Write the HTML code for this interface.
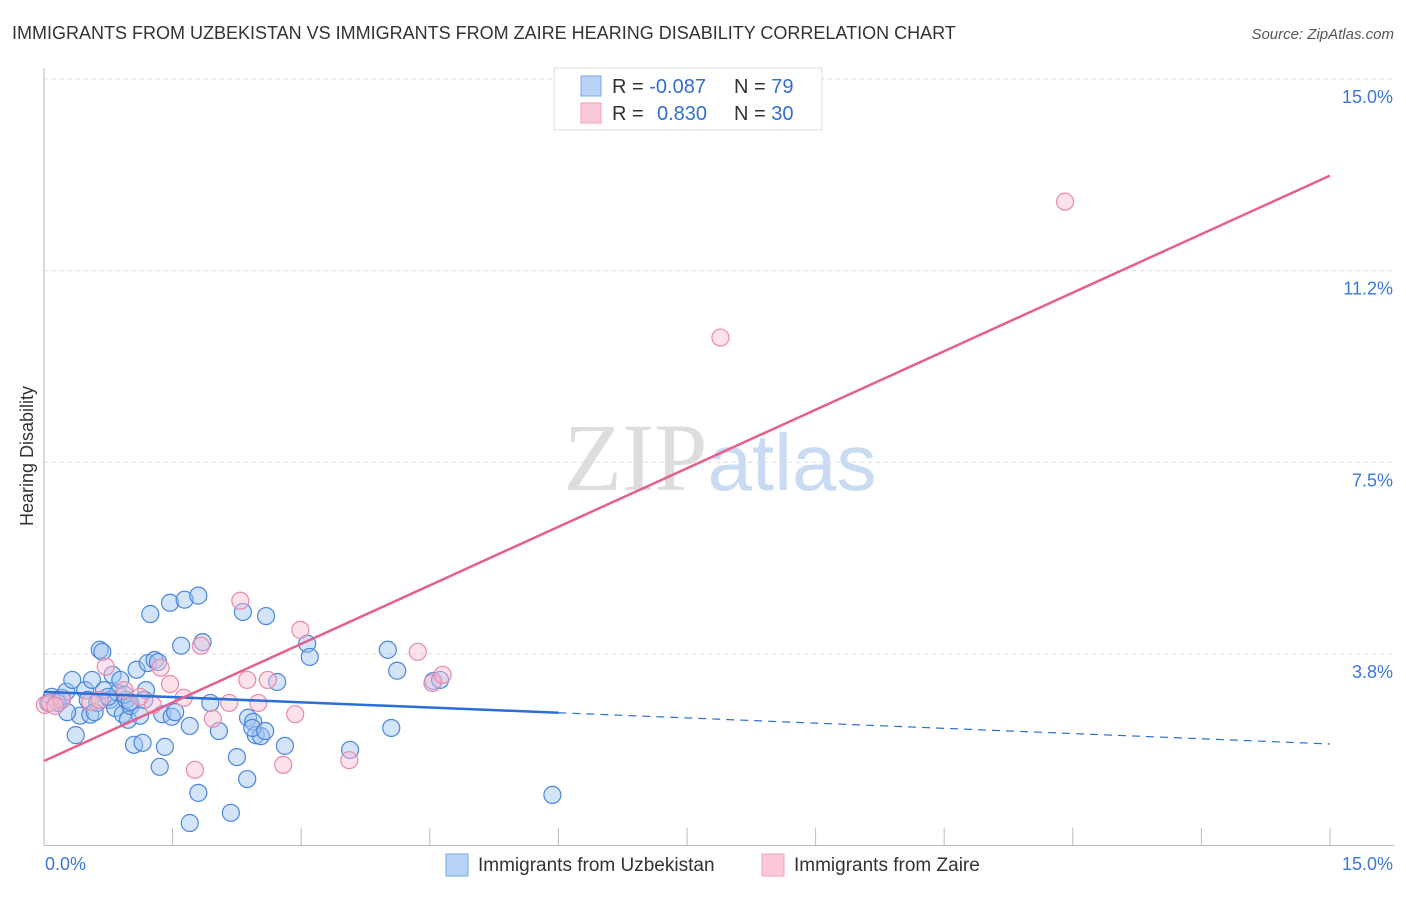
<!DOCTYPE html>
<html><head><meta charset="utf-8"><style>
body{margin:0;background:#fff;font-family:"Liberation Sans",sans-serif;}
</style></head><body>
<svg id="chart" width="1406" height="892" xmlns="http://www.w3.org/2000/svg" font-family="Liberation Sans, sans-serif">
<text x="12" y="39" font-size="18" fill="#333">IMMIGRANTS FROM UZBEKISTAN VS IMMIGRANTS FROM ZAIRE HEARING DISABILITY CORRELATION CHART</text>
<text x="1394" y="39" font-size="15" fill="#555" text-anchor="end" font-style="italic">Source: ZipAtlas.com</text>
<text x="720" y="490" font-size="96" text-anchor="middle"><tspan fill="#ddd" font-family="Liberation Serif, serif">ZIP</tspan><tspan fill="#c9dbf2" font-size="80">atlas</tspan></text>
<g id="grid"></g><g id="axes"></g><g id="marks"></g>
<text transform="translate(33,456) rotate(-90)" font-size="18" fill="#333" text-anchor="middle">Hearing Disability</text>
<g>
<rect x="554" y="68" width="268" height="62" fill="#fff" stroke="#ddd"/>
<rect x="581" y="76" width="20" height="20" fill="#b8d3f5" stroke="#7aa8e8"/>
<text x="612" y="93" font-size="20" fill="#333">R = <tspan fill="#2f6fd0">-0.087</tspan><tspan x="734">N = </tspan><tspan fill="#2f6fd0">79</tspan></text>
<rect x="581" y="103" width="20" height="20" fill="#fbc9d8" stroke="#efa0b8"/>
<text x="612" y="120" font-size="20" fill="#333">R = <tspan x="657" fill="#2f6fd0">0.830</tspan><tspan x="734">N = </tspan><tspan fill="#2f6fd0">30</tspan></text>
</g>
<g>
<rect x="446" y="854" width="22" height="22" fill="#b8d3f5" stroke="#7aa8e8"/>
<text x="478" y="871" font-size="19" fill="#333">Immigrants from Uzbekistan</text>
<rect x="762" y="854" width="22" height="22" fill="#fbc9d8" stroke="#efa0b8"/>
<text x="794" y="871" font-size="19" fill="#333">Immigrants from Zaire</text>
</g>
</svg>
<script>
const blueX=[0.09,0.15,0.21,0.05,0.26,0.33,0.37,0.42,0.48,0.51,0.54,0.56,0.62,0.65,0.68,0.70,0.77,0.80,0.83,0.86,0.92,0.96,0.98,1.01,1.05,1.08,1.12,1.15,1.19,1.21,1.24,1.29,1.33,1.35,1.38,1.41,1.47,1.49,1.53,1.60,1.64,1.70,1.80,1.80,1.70,1.85,1.94,2.04,2.18,2.25,2.32,2.37,2.38,2.44,2.47,2.53,2.59,2.72,2.81,3.07,3.10,3.57,4.01,4.05,4.12,4.54,4.62,5.93,0.89,0.94,0.75,0.27,0.16,0.59,1.17,1.00,2.43,2.58];
const blueY=[2.91,2.85,2.89,2.79,3.01,3.24,2.16,2.54,3.04,2.85,2.56,3.24,2.79,3.83,3.79,3.04,2.85,3.34,2.69,2.99,2.57,2.85,2.46,2.73,1.97,3.44,2.54,2.01,3.04,3.57,4.53,3.63,3.59,1.54,2.57,1.93,4.75,2.52,2.61,3.91,4.81,2.34,4.89,1.03,0.44,3.98,2.79,2.24,0.64,1.73,4.57,1.30,2.50,2.42,2.16,2.14,4.49,3.20,1.95,3.95,3.69,1.87,3.83,2.30,3.42,3.22,3.24,0.99,3.24,2.95,2.91,2.61,2.79,2.61,2.85,2.81,2.30,2.24];
const pinkX=[0.01,0.07,0.21,0.72,0.94,1.12,1.27,1.36,1.47,1.63,1.76,1.83,1.97,2.16,2.29,2.37,2.50,2.61,2.79,2.93,2.99,3.56,4.36,4.53,4.65,7.89,11.91,0.13,0.54,0.65];
const pinkY=[2.75,2.79,2.85,3.50,3.04,2.91,2.75,3.48,3.16,2.89,1.48,3.91,2.48,2.79,4.79,3.24,2.79,3.24,1.58,2.57,4.22,1.67,3.79,3.18,3.34,9.94,12.60,2.73,2.81,2.85];
const blueTrend=[3.006,1.987]; const blueSolidEnd=6.0;
const pinkTrend=[1.654,13.11];
const yTicks=[3.75,7.5,11.25,15];
const yTickLabels=["3.8%","7.5%","11.2%","15.0%"];
const xMin=0,xMax=15,yMin=0,yMax=15;
const L=44,R=1330,T=79,B=845.5;
const sx=v=>L+(v-xMin)/(xMax-xMin)*(R-L);
const sy=v=>B-(v-yMin)/(yMax-yMin)*(B-T);
const NS="http://www.w3.org/2000/svg";
function mk(tag,attrs,parent){const e=document.createElementNS(NS,tag);for(const k in attrs)e.setAttribute(k,attrs[k]);parent.appendChild(e);return e;}
const grid=document.getElementById('grid'),axes=document.getElementById('axes'),marks=document.getElementById('marks');
yTicks.forEach((t,i)=>{
 const g=mk('line',{x1:L,x2:1394,y1:sy(t),y2:sy(t),stroke:'#ddd','stroke-dasharray':'4,4'},grid);
 
 
 const tx=mk('text',{x:1393,y:sy(t)+24,'font-size':18,fill:'#3b78d8','text-anchor':'end'},axes);
 tx.textContent=yTickLabels[i];
 
 
});
const ya=mk('line',{x1:L,x2:L,y1:68,y2:B,stroke:'#bbb'},axes);


const xa=mk('line',{x1:L,x2:1394,y1:B,y2:B,stroke:'#bbb'},axes);


for(let i=0;i<=10;i++){const v=i*1.5;
 const tk=mk('line',{x1:sx(v),x2:sx(v),y1:B,y2:B-18,stroke:'#bbb'},axes);
 
 }
const x0=mk('text',{x:45,y:870,'font-size':18,fill:'#3b78d8'},axes);x0.textContent="0.0%";


const x1=mk('text',{x:1393,y:870,'font-size':18,fill:'#3b78d8','text-anchor':'end'},axes);x1.textContent="15.0%";


blueX.forEach((x,i)=>{const c=mk('circle',{cx:sx(x),cy:sy(blueY[i]),r:8.5,fill:'rgba(160,196,240,0.45)',stroke:'#4a86dc','stroke-width':1.2},marks);
 
 });
pinkX.forEach((x,i)=>{const c=mk('circle',{cx:sx(x),cy:sy(pinkY[i]),r:8.5,fill:'rgba(250,190,210,0.45)',stroke:'#e98aa8','stroke-width':1.2},marks);
 
 });
const bAt=v=>blueTrend[0]+(blueTrend[1]-blueTrend[0])*v/15;
const b1=mk('line',{x1:sx(0),y1:sy(bAt(0)),x2:sx(blueSolidEnd),y2:sy(bAt(blueSolidEnd)),stroke:'#2a6fd6','stroke-width':2.5},marks);


const b2=mk('line',{x1:sx(blueSolidEnd),y1:sy(bAt(blueSolidEnd)),x2:sx(15),y2:sy(bAt(15)),stroke:'#2a6fd6','stroke-width':1.2,'stroke-dasharray':'8,6'},marks);


const p1=mk('line',{x1:sx(0),y1:sy(pinkTrend[0]),x2:sx(15),y2:sy(pinkTrend[1]),stroke:'#e5608c','stroke-width':2.5},marks);


</script>
</body></html>
